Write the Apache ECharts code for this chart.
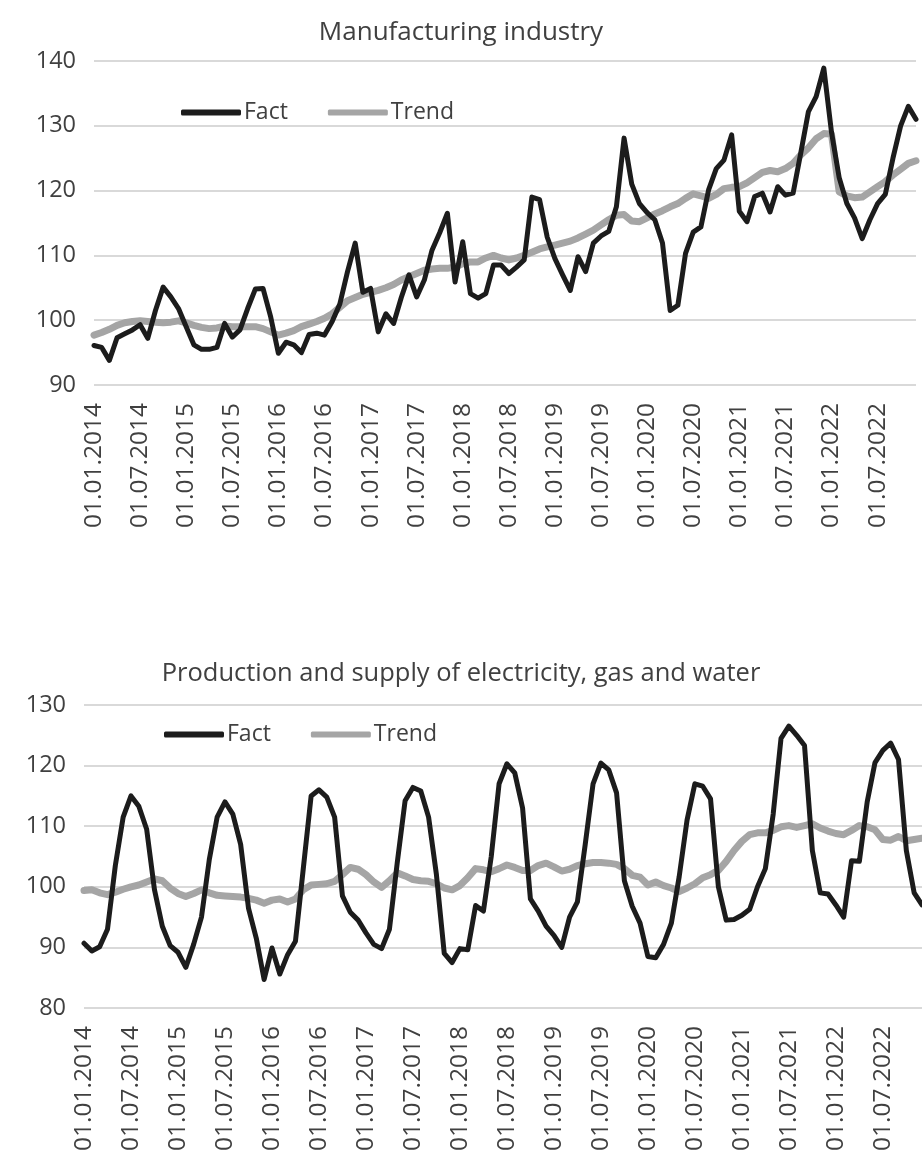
<!DOCTYPE html>
<html>
<head>
<meta charset="utf-8">
<script src="https://cdn.jsdelivr.net/npm/echarts@6/dist/echarts.min.js"></script>
<style>
  html, body { margin: 0; padding: 0; background: #fff; }
  #chart { width: 922px; height: 1154px; }
</style>
</head>
<body>
<div id="chart"></div>
<script>
// monthly categories 01.01.2014 .. 01.12.2022
var years = [2014, 2015, 2016, 2017, 2018, 2019, 2020, 2021, 2022];
var months = ['01', '02', '03', '04', '05', '06', '07', '08', '09', '10', '11', '12'];
var categories = [];
years.forEach(function (y) {
    months.forEach(function (m) { categories.push('01.' + m + '.' + y); });
});

// Manufacturing industry
var manufFact = [
    96.1, 95.8, 93.8, 97.3, 97.9, 98.5, 99.3, 97.2, 101.5, 105.1, 103.6, 101.8,
    99.0, 96.2, 95.5, 95.5, 95.8, 99.5, 97.4, 98.5, 101.8, 104.8, 104.9, 100.5,
    94.9, 96.6, 96.2, 95.0, 97.8, 98.0, 97.7, 99.8, 102.5, 107.5, 111.9, 104.3,
    104.9, 98.2, 101.0, 99.5, 103.5, 107.0, 103.6, 106.2, 110.8, 113.5, 116.5, 105.9,
    112.1, 104.1, 103.4, 104.1, 108.5, 108.5, 107.2, 108.2, 109.3, 119.0, 118.6, 112.8,
    109.5, 107.0, 104.6, 109.8, 107.5, 111.9, 113.0, 113.7, 117.5, 128.1, 121.0, 118.0,
    116.6, 115.5, 111.9, 101.5, 102.3, 110.3, 113.6, 114.4, 120.1, 123.4, 124.7, 128.6,
    116.8, 115.2, 119.1, 119.6, 116.7, 120.6, 119.3, 119.6, 125.8, 132.2, 134.5, 138.9,
    129.0, 122.0, 118.0, 115.8, 112.6, 115.5, 118.0, 119.4, 125.0, 130.0, 133.0, 131.0
];
var manufTrend = [
    97.7, 98.1, 98.6, 99.2, 99.6, 99.8, 99.9, 99.8, 99.7, 99.6, 99.7, 99.9,
    99.6, 99.2, 98.9, 98.7, 98.8, 99.1, 99.0, 99.0, 99.0, 99.0, 98.7, 98.2,
    97.7, 98.0, 98.4, 99.0, 99.4, 99.8, 100.3, 101.0, 102.0, 103.0, 103.5, 104.0,
    104.3, 104.6, 105.0, 105.5, 106.2, 106.7, 107.2, 107.7, 107.9, 108.0, 108.0, 108.2,
    108.7, 109.0, 109.0, 109.6, 110.0, 109.6, 109.3, 109.6, 110.0, 110.5, 111.0, 111.3,
    111.6, 111.9, 112.2, 112.7, 113.3, 113.9, 114.7, 115.5, 116.2, 116.3, 115.3, 115.2,
    115.8, 116.4, 116.9, 117.5, 118.0, 118.8, 119.5, 119.2, 118.8, 119.4, 120.3, 120.5,
    120.6, 121.2, 122.0, 122.8, 123.1, 122.9, 123.4, 124.2, 125.5, 126.6, 128.0, 128.8,
    128.7, 119.8, 119.2, 118.9, 119.0, 119.8, 120.6, 121.4, 122.4, 123.3, 124.2, 124.6
];

// Production and supply of electricity, gas and water
var powerFact = [
    90.7, 89.4, 90.1, 93.0, 103.5, 111.5, 115.0, 113.3, 109.5, 99.5, 93.5, 90.3,
    89.2, 86.7, 90.5, 95.0, 104.5, 111.5, 114.0, 112.0, 107.0, 96.5, 91.5, 84.7,
    89.9, 85.6, 88.8, 91.0, 103.0, 115.0, 116.0, 114.8, 111.5, 98.5, 95.8, 94.5,
    92.4, 90.5, 89.8, 93.0, 104.0, 114.2, 116.4, 115.8, 111.5, 102.0, 89.0, 87.5,
    89.8, 89.6, 96.9, 96.0, 105.0, 117.0, 120.3, 118.8, 113.0, 98.0, 96.0, 93.5,
    92.0, 90.0, 95.0, 97.5, 107.0, 117.0, 120.4, 119.3, 115.5, 101.0, 96.8, 94.0,
    88.5, 88.3, 90.5, 94.0, 101.7, 111.0, 117.0, 116.6, 114.5, 100.0, 94.5, 94.6,
    95.3, 96.3, 100.0, 103.0, 112.0, 124.5, 126.5, 125.0, 123.3, 106.0, 99.0, 98.8,
    97.0, 95.0, 104.3, 104.2, 114.0, 120.5, 122.5, 123.7, 121.0, 106.0, 99.0, 97.0
];
var powerTrend = [
    99.4, 99.5, 99.0, 98.7, 99.1, 99.6, 100.0, 100.3, 100.8, 101.3, 101.0, 99.8,
    98.9, 98.4, 98.9, 99.5, 99.0, 98.6, 98.5, 98.4, 98.3, 98.1, 97.8, 97.3,
    97.8, 98.0, 97.5, 98.0, 99.5, 100.3, 100.4, 100.5, 100.9, 102.0, 103.2, 102.9,
    102.0, 100.8, 99.9, 101.0, 102.3, 101.8, 101.2, 101.0, 100.9, 100.5, 99.8, 99.5,
    100.2, 101.5, 103.0, 102.8, 102.5, 103.0, 103.6, 103.2, 102.7, 102.7, 103.5, 103.9,
    103.3, 102.6, 102.9, 103.5, 103.8, 104.0, 104.0, 103.9, 103.7, 103.0, 101.9, 101.6,
    100.3, 100.8, 100.2, 99.8, 99.2, 99.8, 100.5, 101.5, 102.0, 102.7, 104.2, 106.0,
    107.5, 108.6, 108.9, 108.9, 109.3, 109.9, 110.1, 109.8, 110.1, 110.4, 109.7, 109.2,
    108.8, 108.6, 109.3, 110.1, 109.9, 109.4, 107.8, 107.7, 108.3, 107.6, 107.8, 108.0
];

var titles = ['Manufacturing industry', 'Production and supply of electricity, gas and water'];
var FONT = 'Open Sans';
var TXT = '#404040';
var FACT_COLOR = '#1c1c1c';
var TREND_COLOR = '#a5a5a5';

function xAxisOf(idx) {
    return {
        type: 'category',
        gridIndex: idx,
        data: categories,
        boundaryGap: false,
        axisLine: { show: false },
        axisTick: { show: false },
        axisLabel: {
            interval: 5,
            rotate: 90,
            margin: 18,
            color: TXT,
            fontFamily: FONT,
            fontSize: 24.5
        }
    };
}
function yAxisOf(idx, min, max) {
    return {
        type: 'value',
        gridIndex: idx,
        min: min,
        max: max,
        interval: 10,
        axisLine: { show: false },
        axisTick: { show: false },
        axisLabel: { margin: 18, color: TXT, fontFamily: FONT, fontSize: 23.5 },
        splitLine: { lineStyle: { color: '#d9d9d9', width: 2 } }
    };
}
function lineOf(name, idx, data, color, width, z) {
    return {
        name: name,
        type: 'line',
        xAxisIndex: idx,
        yAxisIndex: idx,
        data: data,
        symbol: 'none',
        z: z,
        lineStyle: { color: color, width: width, join: 'round', cap: 'round' },
        itemStyle: { color: color }
    };
}
function legendOf(left, top) {
    return {
        left: left,
        top: top,
        data: ['Fact', 'Trend'],
        icon: 'roundRect',
        itemWidth: 60,
        itemHeight: 6,
        itemGap: 40,
        textStyle: { color: TXT, fontFamily: FONT, fontSize: 23, padding: [0, 0, 0, -2] }
    };
}

var chart = echarts.init(document.getElementById('chart'));
var option = {
    backgroundColor: '#fff',
    animation: false,
    title: [
        { text: titles[0], left: 'center', top: 15,
          textStyle: { color: TXT, fontFamily: FONT, fontSize: 26, fontWeight: 'normal' } },
        { text: titles[1], left: 'center', top: 656,
          textStyle: { color: TXT, fontFamily: FONT, fontSize: 25.5, fontWeight: 'normal' } }
    ],
    legend: [legendOf(176, 96), legendOf(159, 718)],
    grid: [
        { left: 94, top: 61, width: 822, height: 324 },
        { left: 84, top: 705, width: 838, height: 303 }
    ],
    xAxis: [xAxisOf(0), xAxisOf(1)],
    yAxis: [yAxisOf(0, 90, 140), yAxisOf(1, 80, 130)],
    series: [
        lineOf('Trend', 0, manufTrend, TREND_COLOR, 7, 2),
        lineOf('Fact', 0, manufFact, FACT_COLOR, 5, 3),
        lineOf('Trend', 1, powerTrend, TREND_COLOR, 7, 2),
        lineOf('Fact', 1, powerFact, FACT_COLOR, 5, 3)
    ]
};
chart.setOption(option);
</script>
</body>
</html>
